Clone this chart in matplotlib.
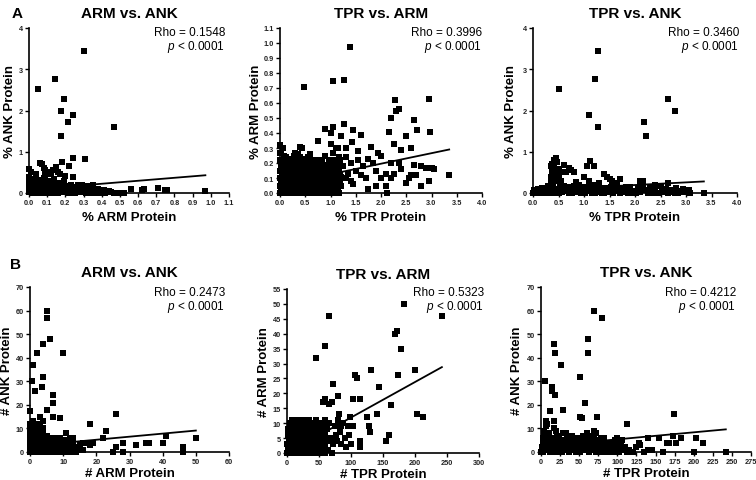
import matplotlib
matplotlib.use("Agg")
import matplotlib.pyplot as plt
import numpy as np

plt.rcParams['font.family'] = ['Liberation Sans', 'DejaVu Sans']
plt.rcParams['mathtext.fontset'] = 'custom'
plt.rcParams['mathtext.it'] = 'Liberation Sans:italic'
plt.rcParams['mathtext.rm'] = 'Liberation Sans'

# ---- data: (x, y) pairs per panel ----
arm_ank_pct = [
    (0.30, 3.45), (0.145, 2.76), (0.05, 2.53), (0.19, 2.27), (0.175, 1.98), (0.24, 1.89),
    (0.215, 1.71), (0.465, 1.59), (0.175, 1.39), (0.31, 0.82), (0.24, 0.84), (0.06, 0.73),
    (0.07, 0.70), (0.18, 0.76), (0.22, 0.65), (0.0, 0.57), (0.01, 0.5), (0.1, 0.5),
    (0.13, 0.55), (0.15, 0.63), (0.16, 0.5), (0.085, 0.6), (0.09, 0.55), (0.12, 0.45),
    (0.17, 0.46), (0.2, 0.42), (0.08, 0.36), (0.11, 0.3), (0.14, 0.35), (0.19, 0.3),
    (0.24, 0.38), (0.17, 0.25), (0.27, 0.2), (0.29, 0.2), (0.32, 0.18), (0.35, 0.2),
    (0.38, 0.1), (0.4, 0.05), (0.42, 0.06), (0.44, 0.04), (0.5, 0.0), (0.52, 0.0),
    (0.56, 0.1), (0.62, 0.08), (0.63, 0.1), (0.71, 0.13), (0.75, 0.08), (0.76, 0.07),
    (0.97, 0.05),
    (0.0, 0.02), (0.0, 0.1), (0.0, 0.2), (0.0, 0.3), (0.0, 0.4), (0.005, 0.05), (0.01, 0.15),
    (0.01, 0.25), (0.02, 0.0), (0.02, 0.08), (0.03, 0.12), (0.03, 0.03), (0.04, 0.2),
    (0.05, 0.06), (0.05, 0.0), (0.06, 0.15), (0.07, 0.1), (0.07, 0.02), (0.08, 0.22),
    (0.09, 0.05), (0.1, 0.12), (0.1, 0.0), (0.11, 0.18), (0.12, 0.06), (0.13, 0.1),
    (0.13, 0.02), (0.14, 0.2), (0.15, 0.08), (0.16, 0.0), (0.17, 0.12), (0.18, 0.05),
    (0.19, 0.15), (0.2, 0.02), (0.21, 0.1), (0.22, 0.06), (0.23, 0.2), (0.24, 0.0),
    (0.25, 0.1), (0.26, 0.04), (0.27, 0.15), (0.28, 0.08), (0.3, 0.02), (0.31, 0.12),
    (0.32, 0.05), (0.34, 0.0), (0.35, 0.08), (0.36, 0.03), (0.38, 0.01), (0.4, 0.01),
    (0.43, 0.03), (0.02, 0.35), (0.04, 0.45), (0.06, 0.28), (0.09, 0.42), (0.12, 0.25),
    (0.015, 0.0), (0.025, 0.18), (0.035, 0.07), (0.045, 0.1), (0.055, 0.22), (0.065, 0.04),
    (0.075, 0.17), (0.085, 0.0), (0.095, 0.13), (0.105, 0.06), (0.115, 0.24), (0.125, 0.0),
    (0.135, 0.16), (0.145, 0.04), (0.155, 0.12), (0.165, 0.2), (0.175, 0.02), (0.185, 0.1),
    (0.195, 0.06), (0.205, 0.18), (0.215, 0.0), (0.225, 0.13), (0.235, 0.04), (0.245, 0.15),
    (0.255, 0.0), (0.265, 0.08), (0.275, 0.02), (0.285, 0.12), (0.295, 0.05), (0.305, 0.08),
    (0.315, 0.0), (0.325, 0.1), (0.335, 0.04), (0.345, 0.13), (0.355, 0.0), (0.37, 0.06),
    (0.39, 0.02), (0.41, 0.08), (0.42, 0.0), (0.45, 0.02), (0.47, 0.0), (0.015, 0.3),
    (0.03, 0.27), (0.05, 0.32), (0.08, 0.3),
]

tpr_arm_pct = [
    (1.38, 0.975), (1.05, 0.75), (1.27, 0.755), (0.47, 0.71), (2.95, 0.63), (2.28, 0.62),
    (2.3, 0.55), (2.35, 0.56), (2.2, 0.5), (2.65, 0.49), (2.72, 0.42), (2.98, 0.41),
    (2.15, 0.41), (1.27, 0.46), (1.05, 0.44), (0.9, 0.43), (1.45, 0.42), (1.6, 0.39),
    (2.5, 0.38), (1.0, 0.4), (1.2, 0.38), (2.25, 0.33), (1.42, 0.34), (1.8, 0.31),
    (2.6, 0.3), (2.4, 0.29), (0.75, 0.35), (0.4, 0.31), (0.0, 0.32), (1.15, 0.3),
    (1.3, 0.3), (1.55, 0.28), (1.95, 0.27), (2.0, 0.25), (2.2, 0.2), (2.35, 0.2),
    (2.65, 0.19), (2.8, 0.18), (2.9, 0.17), (3.0, 0.17), (3.05, 0.16), (2.55, 0.1),
    (2.6, 0.12), (2.5, 0.07), (2.7, 0.12), (2.95, 0.08), (2.8, 0.05), (3.35, 0.12),
    (2.12, 0.0), (2.1, 0.05), (2.0, 0.1), (1.9, 0.05), (1.75, 0.03), (1.7, 0.1),
    (1.6, 0.12), (1.5, 0.15), (1.4, 0.2), (1.35, 0.13), (1.3, 0.1), (1.25, 0.18),
    (1.85, 0.2), (1.9, 0.15), (2.1, 0.13), (2.2, 0.1), (2.4, 0.16), (2.25, 0.13),
    (1.45, 0.06), (1.55, 0.22), (1.65, 0.18), (1.75, 0.23), (1.3, 0.24), (1.4, 0.08),
    (0.0, 0.0), (0.0, 0.05), (0.0, 0.1), (0.0, 0.15), (0.0, 0.22), (0.02, 0.08),
    (0.03, 0.02), (0.05, 0.13), (0.06, 0.19), (0.07, 0.05), (0.08, 0.25), (0.1, 0.1),
    (0.1, 0.0), (0.12, 0.15), (0.13, 0.07), (0.15, 0.2), (0.16, 0.03), (0.18, 0.12),
    (0.2, 0.0), (0.2, 0.17), (0.22, 0.08), (0.24, 0.22), (0.25, 0.04), (0.27, 0.13),
    (0.28, 0.25), (0.3, 0.0), (0.3, 0.09), (0.32, 0.18), (0.34, 0.05), (0.35, 0.26),
    (0.36, 0.12), (0.38, 0.2), (0.4, 0.02), (0.4, 0.15), (0.42, 0.08), (0.44, 0.23),
    (0.45, 0.0), (0.46, 0.11), (0.48, 0.18), (0.5, 0.05), (0.5, 0.14), (0.52, 0.22),
    (0.54, 0.0), (0.55, 0.09), (0.57, 0.17), (0.58, 0.03), (0.6, 0.12), (0.62, 0.2),
    (0.63, 0.06), (0.65, 0.15), (0.67, 0.0), (0.68, 0.1), (0.7, 0.18), (0.72, 0.04),
    (0.73, 0.13), (0.75, 0.22), (0.77, 0.08), (0.78, 0.0), (0.8, 0.16), (0.82, 0.11),
    (0.83, 0.03), (0.85, 0.19), (0.87, 0.07), (0.88, 0.14), (0.9, 0.0), (0.92, 0.1),
    (0.93, 0.17), (0.95, 0.05), (0.97, 0.22), (0.98, 0.12), (1.0, 0.02), (1.0, 0.16),
    (1.02, 0.08), (1.04, 0.27), (1.05, 0.13), (1.07, 0.0), (1.08, 0.2), (1.1, 0.06),
    (1.12, 0.15), (1.13, 0.1), (1.15, 0.02), (1.17, 0.24), (1.18, 0.12), (1.2, 0.05),
    (1.2, 0.18), (0.05, 0.3), (0.1, 0.2), (0.15, 0.09), (0.25, 0.16), (0.35, 0.01),
    (0.43, 0.3), (0.47, 0.06), (0.53, 0.1), (0.6, 0.26), (0.66, 0.21), (0.7, 0.08),
    (0.75, 0.01), (0.85, 0.09), (0.9, 0.25), (0.95, 0.14), (1.1, 0.3), (1.0, 0.33),
    (0.3, 0.27), (0.35, 0.25), (0.55, 0.24),
    (0.01, 0.18), (0.01, 0.27), (0.03, 0.12), (0.04, 0.0), (0.04, 0.21), (0.06, 0.09),
    (0.08, 0.15), (0.09, 0.02), (0.09, 0.2), (0.11, 0.06), (0.11, 0.24), (0.12, 0.0),
    (0.14, 0.11), (0.14, 0.18), (0.16, 0.23), (0.17, 0.07), (0.18, 0.0), (0.19, 0.15),
    (0.21, 0.04), (0.21, 0.21), (0.23, 0.12), (0.23, 0.0), (0.25, 0.09), (0.26, 0.2),
    (0.27, 0.02), (0.29, 0.16), (0.29, 0.06), (0.31, 0.12), (0.31, 0.22), (0.33, 0.0),
    (0.33, 0.14), (0.35, 0.08), (0.37, 0.17), (0.37, 0.03), (0.39, 0.1), (0.39, 0.24),
    (0.41, 0.12), (0.41, 0.19), (0.43, 0.0), (0.43, 0.15), (0.45, 0.07), (0.46, 0.2),
    (0.47, 0.14), (0.49, 0.02), (0.49, 0.1), (0.51, 0.17), (0.52, 0.07), (0.53, 0.0),
    (0.54, 0.13), (0.56, 0.04), (0.56, 0.2), (0.58, 0.11), (0.59, 0.16), (0.61, 0.0),
    (0.61, 0.08), (0.63, 0.14), (0.64, 0.22), (0.66, 0.03), (0.66, 0.12), (0.68, 0.17),
    (0.69, 0.05), (0.71, 0.11), (0.71, 0.22), (0.73, 0.0), (0.74, 0.07), (0.76, 0.15),
    (0.76, 0.04), (0.78, 0.2), (0.79, 0.1), (0.81, 0.0), (0.81, 0.06), (0.83, 0.14),
    (0.84, 0.22), (0.86, 0.03), (0.86, 0.12), (0.88, 0.07), (0.89, 0.18), (0.91, 0.04),
    (0.91, 0.14), (0.93, 0.0), (0.94, 0.09), (0.96, 0.18), (0.96, 0.02), (0.98, 0.07),
    (0.99, 0.2), (1.01, 0.11), (1.03, 0.0), (1.03, 0.17), (1.05, 0.05), (1.06, 0.22),
    (1.08, 0.1), (1.09, 0.02), (1.11, 0.12), (1.13, 0.19), (1.14, 0.05), (1.16, 0.14),
    (1.16, 0.0), (1.18, 0.08), (1.19, 0.22), (1.21, 0.11), (0.0, 0.27), (0.02, 0.03),
]

tpr_ank_pct = [
    (1.28, 3.45), (1.22, 2.76), (0.5, 2.53), (2.65, 2.27), (2.78, 1.98), (1.1, 1.89),
    (2.17, 1.71), (1.27, 1.59), (2.22, 1.39),
    (0.45, 0.85), (0.42, 0.8), (0.38, 0.7), (0.35, 0.65), (0.6, 0.68), (0.5, 0.58),
    (0.55, 0.5), (0.65, 0.5), (0.75, 0.55), (0.8, 0.5), (0.7, 0.6), (0.4, 0.55),
    (0.45, 0.45), (0.35, 0.4), (0.4, 0.35), (0.5, 0.4), (0.45, 0.3), (0.85, 0.27),
    (1.05, 0.65), (1.12, 0.77), (1.2, 0.65), (1.0, 0.4), (1.4, 0.45), (1.45, 0.4),
    (1.5, 0.35), (1.7, 0.35), (1.65, 0.25), (1.55, 0.3), (2.15, 0.3), (1.3, 0.25),
    (1.1, 0.3), (0.38, 0.5), (0.42, 0.62), (0.47, 0.75), (0.36, 0.25), (0.55, 0.3),
    (0.0, 0.0), (0.05, 0.05), (0.1, 0.1), (0.15, 0.02), (0.2, 0.12), (0.25, 0.05),
    (0.3, 0.18), (0.3, 0.0), (0.35, 0.08), (0.4, 0.15), (0.45, 0.02), (0.5, 0.1),
    (0.55, 0.2), (0.6, 0.04), (0.65, 0.13), (0.7, 0.0), (0.75, 0.08), (0.8, 0.17),
    (0.85, 0.03), (0.9, 0.11), (0.95, 0.0), (1.0, 0.15), (1.05, 0.06), (1.1, 0.2),
    (1.15, 0.01), (1.2, 0.1), (1.25, 0.04), (1.3, 0.16), (1.35, 0.0), (1.4, 0.08),
    (1.45, 0.13), (1.5, 0.02), (1.55, 0.1), (1.6, 0.18), (1.65, 0.05), (1.7, 0.0),
    (1.75, 0.12), (1.8, 0.03), (1.85, 0.09), (1.9, 0.15), (1.95, 0.0), (2.0, 0.06),
    (2.05, 0.12), (2.1, 0.02), (2.15, 0.2), (2.2, 0.08), (2.25, 0.0), (2.3, 0.14),
    (2.35, 0.04), (2.4, 0.1), (2.45, 0.0), (2.5, 0.16), (2.55, 0.05), (2.6, 0.1),
    (2.65, 0.0), (2.7, 0.08), (2.75, 0.03), (2.8, 0.12), (2.85, 0.0), (2.9, 0.06),
    (2.95, 0.1), (3.0, 0.03), (3.05, 0.07), (3.35, 0.0), (0.2, 0.0), (0.4, 0.05),
    (0.6, 0.18), (0.8, 0.05), (1.0, 0.02), (1.2, 0.2), (1.4, 0.0), (1.6, 0.05),
    (2.4, 0.2), (2.65, 0.25), (2.1, 0.3), (0.5, 0.0), (0.7, 0.12), (0.9, 0.2),
    (1.1, 0.06), (1.3, 0.02),
    (0.02, 0.08), (0.07, 0.0), (0.12, 0.05), (0.17, 0.12), (0.22, 0.06), (0.27, 0.1),
    (0.32, 0.04), (0.37, 0.13), (0.42, 0.0), (0.47, 0.08), (0.52, 0.14), (0.57, 0.03),
    (0.62, 0.1), (0.67, 0.06), (0.72, 0.15), (0.77, 0.0), (0.82, 0.1), (0.87, 0.14),
    (0.92, 0.05), (0.97, 0.1), (1.02, 0.0), (1.07, 0.12), (1.12, 0.16), (1.17, 0.07),
    (1.22, 0.0), (1.27, 0.1), (1.32, 0.06), (1.37, 0.13), (1.42, 0.04), (1.47, 0.07),
    (1.52, 0.15), (1.57, 0.0), (1.62, 0.09), (1.67, 0.13), (1.72, 0.06), (1.77, 0.02),
    (1.82, 0.14), (1.87, 0.0), (1.92, 0.05), (2.02, 0.0), (2.12, 0.08), (2.28, 0.05),
    (2.38, 0.0), (2.52, 0.02), (2.62, 0.06), (2.78, 0.0), (2.92, 0.02), (3.08, 0.0),
]

arm_ank_num = [
    (5, 60), (5, 57), (6, 48), (4, 46), (10, 42), (2, 42), (1, 37), (4, 32), (0.5, 30),
    (3.5, 27.5), (1.5, 26), (7, 24), (7, 21), (5, 18), (0, 17.5), (7, 15), (9, 14.5),
    (3, 15), (26, 16), (18, 12), (1, 13), (4, 13), (23, 9), (22, 6), (11, 8), (12, 6),
    (17, 4), (18, 4), (19, 4), (16, 1), (18, 3), (26, 2), (25, 0), (28, 4), (28, 0),
    (32, 3), (35, 4), (36, 4), (40, 4), (41, 7), (46, 2), (46, 0), (46, 1), (50, 6),
    (0, 0), (0, 3), (0, 5), (0, 8), (1, 1), (1, 4), (1, 6), (1, 9), (2, 0), (2, 2),
    (2, 5), (2, 7), (2, 10), (3, 1), (3, 3), (3, 6), (3, 8), (3, 11), (4, 0), (4, 2),
    (4, 5), (4, 7), (5, 1), (5, 3), (5, 6), (6, 0), (6, 2), (6, 4), (6, 6), (7, 1),
    (7, 3), (7, 6), (8, 0), (8, 2), (8, 5), (9, 1), (9, 3), (9, 6), (10, 0), (10, 2),
    (10, 5), (11, 1), (11, 3), (12, 0), (12, 2), (12, 4), (13, 1), (13, 3), (14, 0),
    (14, 2), (15, 1), (15, 3), (16, 4), (13, 6), (2, 12), (1, 11), (0, 10),
    (0, 1), (0, 6), (0.5, 3), (0.5, 8), (1, 0), (1, 2), (1, 5), (1.5, 7), (1.5, 1),
    (2, 3), (2, 8), (2.5, 4), (2.5, 6), (3, 0), (3, 2), (3, 4), (3.5, 7), (3.5, 9),
    (4, 1), (4, 3), (4, 8), (4.5, 5), (5, 0), (5, 2), (5, 4), (5, 7), (5.5, 5), (6, 1),
    (6, 3), (6, 5), (6.5, 2), (7, 0), (7, 2), (7, 4), (7.5, 5), (8, 1), (8, 3), (8, 6),
    (9, 0), (9, 2), (9, 4), (10, 1), (10, 3), (11, 0), (11, 2), (11, 5), (12, 1),
    (12, 3), (0, 12), (1, 8), (2, 9), (4, 10),
]

tpr_arm_num = [
    (183, 50), (242, 46), (65, 46), (172, 41), (168, 40), (60, 36), (178, 35), (46, 32),
    (131, 28), (200, 28), (107, 26), (174, 26), (110, 25), (72, 23), (143, 22), (80, 19),
    (60, 18), (56, 17), (70, 17), (66, 16.5), (103, 18), (114, 18), (162, 16), (140, 13),
    (82, 13), (203, 13), (212, 12), (125, 12), (98, 12), (128, 9), (130, 7), (155, 4),
    (160, 6), (114, 4), (114, 2), (100, 3), (92, 2), (85, 3), (70, 0), (95, 9), (88, 10),
    (80, 11), (83, 7), (77, 6), (90, 5), (78, 4), (72, 3), (60, 11), (65, 10), (52, 10),
    (45, 11), (40, 10), (30, 11), (8, 11), (50, 6), (55, 7), (68, 5), (62, 8), (75, 9),
    (103, 9), (97, 6), (85, 9), (58, 2), (64, 1),
    (0, 0), (0, 3), (2, 6), (3, 1), (5, 4), (6, 8), (8, 2), (9, 5), (10, 0), (11, 7),
    (12, 3), (14, 9), (15, 1), (16, 5), (18, 7), (19, 2), (20, 10), (21, 4), (23, 0),
    (24, 6), (25, 8), (27, 2), (28, 5), (29, 10), (31, 1), (32, 7), (33, 3), (35, 9),
    (36, 5), (37, 0), (39, 7), (40, 2), (41, 4), (43, 8), (44, 1), (46, 6), (47, 3),
    (49, 9), (50, 0), (51, 4), (53, 8), (54, 2), (56, 5), (57, 10), (58, 6), (60, 3),
    (13, 11), (22, 11), (34, 11), (42, 10), (26, 0), (7, 9), (17, 0), (30, 6), (45, 5),
    (1, 2), (1, 8), (2, 0), (3, 4), (4, 10), (4, 7), (5, 1), (6, 3), (6, 6), (7, 0),
    (7, 4), (8, 8), (9, 1), (9, 3), (10, 6), (10, 9), (11, 2), (12, 5), (12, 8), (13, 0),
    (13, 4), (14, 6), (15, 3), (15, 8), (16, 1), (17, 4), (17, 7), (18, 2), (18, 10),
    (19, 5), (20, 0), (20, 7), (21, 3), (22, 6), (22, 9), (23, 2), (24, 4), (25, 0),
    (25, 10), (26, 7), (27, 5), (28, 1), (28, 8), (29, 3), (30, 0), (30, 9), (31, 5),
    (32, 2), (33, 8), (34, 0), (34, 5), (35, 2), (36, 7), (37, 4), (38, 9), (38, 1),
    (39, 5), (40, 8), (41, 0), (42, 5), (43, 2), (44, 7), (45, 0), (46, 3), (47, 9),
    (48, 5), (49, 1), (50, 7), (51, 9), (52, 2), (53, 5), (55, 0), (56, 8), (57, 3),
    (59, 6), (59, 0), (62, 4),
]

tpr_ank_num = [
    (70, 60), (80, 57), (62, 48), (17, 46), (18, 42), (62, 42), (26, 37), (51, 32),
    (5, 30), (15, 27.5), (14, 26), (18, 24), (58, 21), (29, 18), (12, 17.5), (174, 16),
    (73, 15), (51, 15), (54, 14.5), (17, 13), (6, 13), (7, 11), (112, 12), (82, 6),
    (100, 6), (140, 6), (155, 6), (173, 7), (183, 6), (177, 4), (165, 4), (168, 4),
    (203, 6), (212, 4), (200, 0), (242, 0), (160, 0), (140, 1), (125, 2), (128, 4),
    (130, 3), (115, 1), (110, 2), (105, 3), (100, 4), (95, 1), (90, 2), (70, 9),
    (72, 8), (60, 8), (65, 5), (17, 10), (8, 12), (4, 9), (19, 9), (106, 5), (97, 5),
    (0, 0), (2, 4), (4, 7), (5, 1), (7, 5), (9, 2), (10, 8), (12, 0), (13, 4), (15, 6),
    (17, 1), (19, 3), (21, 7), (23, 0), (25, 5), (27, 2), (29, 8), (31, 1), (33, 4),
    (35, 6), (37, 0), (39, 3), (41, 7), (43, 1), (45, 5), (47, 2), (49, 6), (51, 0),
    (53, 4), (55, 7), (57, 1), (59, 3), (61, 6), (63, 0), (65, 2), (67, 4), (69, 1),
    (71, 5), (73, 2), (75, 0), (77, 3), (79, 5), (81, 1), (84, 2), (87, 0), (91, 4),
    (94, 0), (98, 2), (102, 0), (108, 1), (113, 0), (120, 0), (135, 0), (145, 1),
    (3, 6), (11, 3), (22, 4), (33, 8), (44, 3), (56, 5), (66, 7), (78, 2), (88, 4),
    (1, 2), (3, 0), (6, 3), (8, 6), (10, 1), (12, 5), (14, 2), (16, 4), (18, 0), (18, 6),
    (20, 3), (22, 1), (24, 6), (26, 3), (28, 0), (30, 5), (32, 2), (34, 6), (36, 3),
    (38, 1), (40, 5), (42, 2), (44, 6), (46, 0), (48, 4), (50, 2), (52, 6), (54, 1),
    (56, 3), (58, 5), (60, 1), (62, 4), (64, 6), (66, 1), (68, 3), (70, 6), (72, 0),
    (74, 4), (76, 2), (78, 6), (80, 3), (82, 0), (85, 4), (89, 1), (92, 3), (96, 2),
    (100, 0), (104, 1),
]

# regression lines (end points)
fit_lines = [
    ([0.0, 0.97], [0.08, 0.43]),
    ([0.0, 3.35], [0.055, 0.29]),
    ([0.0, 3.35], [0.065, 0.28]),
    ([0.0, 50.0], [2.6, 9.1]),
    ([0.0, 242.0], [0.0, 28.8]),
    ([0.0, 242.0], [2.4, 9.6]),
]

titles = ["ARM vs. ANK", "TPR vs. ARM", "TPR vs. ANK"] * 2
xlabels = ["% ARM Protein", "% TPR Protein", "% TPR Protein",
           "# ARM Protein", "# TPR Protein", "# TPR Protein"]
ylabels = ["% ANK Protein", "% ARM Protein", "% ANK Protein",
           "# ANK Protein", "# ARM Protein", "# ANK Protein"]
rho_values = ["0.1548", "0.3996", "0.3460", "0.2473", "0.5323", "0.4212"]

xticks = [np.arange(0, 1.11, 0.1), np.arange(0, 4.01, 0.5), np.arange(0, 4.01, 0.5),
          np.arange(0, 61, 10), np.arange(0, 301, 50), np.arange(0, 276, 25)]
yticks = [np.arange(0, 5, 1), np.arange(0, 1.11, 0.1), np.arange(0, 5, 1),
          np.arange(0, 71, 10), np.arange(0, 56, 5), np.arange(0, 71, 10)]
xfmt = ["%.1f", "%.1f", "%.1f", "%d", "%d", "%d"]
yfmt = ["%d", "%.1f", "%d", "%d", "%d", "%d"]

datasets = [arm_ank_pct, tpr_arm_pct, tpr_ank_pct, arm_ank_num, tpr_arm_num, tpr_ank_num]

# axes rectangles in pixels (left, top, right, bottom) on a 756x481 canvas
W, H = 756, 481
boxes = [(29, 29, 229, 194), (280, 29, 482, 194), (533, 29, 737, 194),
         (30, 288, 229, 453), (287, 290, 479, 454), (541, 288, 751, 453)]
ylabel_gap = [13, 18, 16, 17, 17, 18]     # px from y-axis to right edge of y label
xlabel_gap = [18, 18, 18, 15, 15, 15]     # px from x-axis to top of x label
rho_right = [225, 482, 739, 225, 484, 736]  # px, right edge of the Rho text
rho_top = [27, 27, 27, 287, 287, 287]       # px, top of the Rho text

fig = plt.figure(figsize=(7.56, 4.81), dpi=100)

for i in range(6):
    l, t, r, b = boxes[i]
    ax = fig.add_axes([l / W, 1 - b / H, (r - l) / W, (b - t) / H])
    xs, ys = zip(*datasets[i])
    ax.scatter(xs, ys, marker='s', s=14, color='black', linewidths=0, clip_on=False, zorder=3)
    fx, fy = fit_lines[i]
    ax.plot(fx, fy, color='black', lw=1.3, zorder=4)

    ax.set_xlim(xticks[i][0], xticks[i][-1])
    ax.set_ylim(yticks[i][0], yticks[i][-1])
    ax.set_xticks(xticks[i])
    ax.set_yticks(yticks[i])
    ax.set_xticklabels([xfmt[i] % v for v in xticks[i]])
    ax.set_yticklabels([yfmt[i] % v for v in yticks[i]])
    for lab in ax.get_xticklabels() + ax.get_yticklabels():
        lab.set_fontweight('bold')
        lab.set_color('#222222')
    ax.tick_params(direction='out', length=3, width=1, labelsize=5.3, pad=1.5)

    for s in ['top', 'right']:
        ax.spines[s].set_visible(False)
    for s in ['left', 'bottom']:
        ax.spines[s].set_linewidth(1.2)

    ax.set_title(titles[i], fontsize=11, fontweight='bold', pad=8)
    ax.set_xlabel(xlabels[i], fontsize=9.5, fontweight='bold')
    ax.set_ylabel(ylabels[i], fontsize=9.5, fontweight='bold')
    ax.xaxis.set_label_coords(0.5, -xlabel_gap[i] / (b - t))
    ax.xaxis.label.set_va('top')
    ax.yaxis.set_label_coords(-ylabel_gap[i] / (r - l), 0.5)

    fig.text(rho_right[i] / W, 1 - rho_top[i] / H,
             "Rho = " + rho_values[i] + "\n$\\it{p}$ < 0.0001",
             ha='right', va='top', fontsize=8.5, multialignment='right', linespacing=1.0)

fig.text(12 / W, 1 - 14 / H, "A", fontsize=11, fontweight='bold', ha='left', va='center')
fig.text(10 / W, 1 - 265 / H, "B", fontsize=11, fontweight='bold', ha='left', va='center')

plt.savefig('out.png', dpi=100)
